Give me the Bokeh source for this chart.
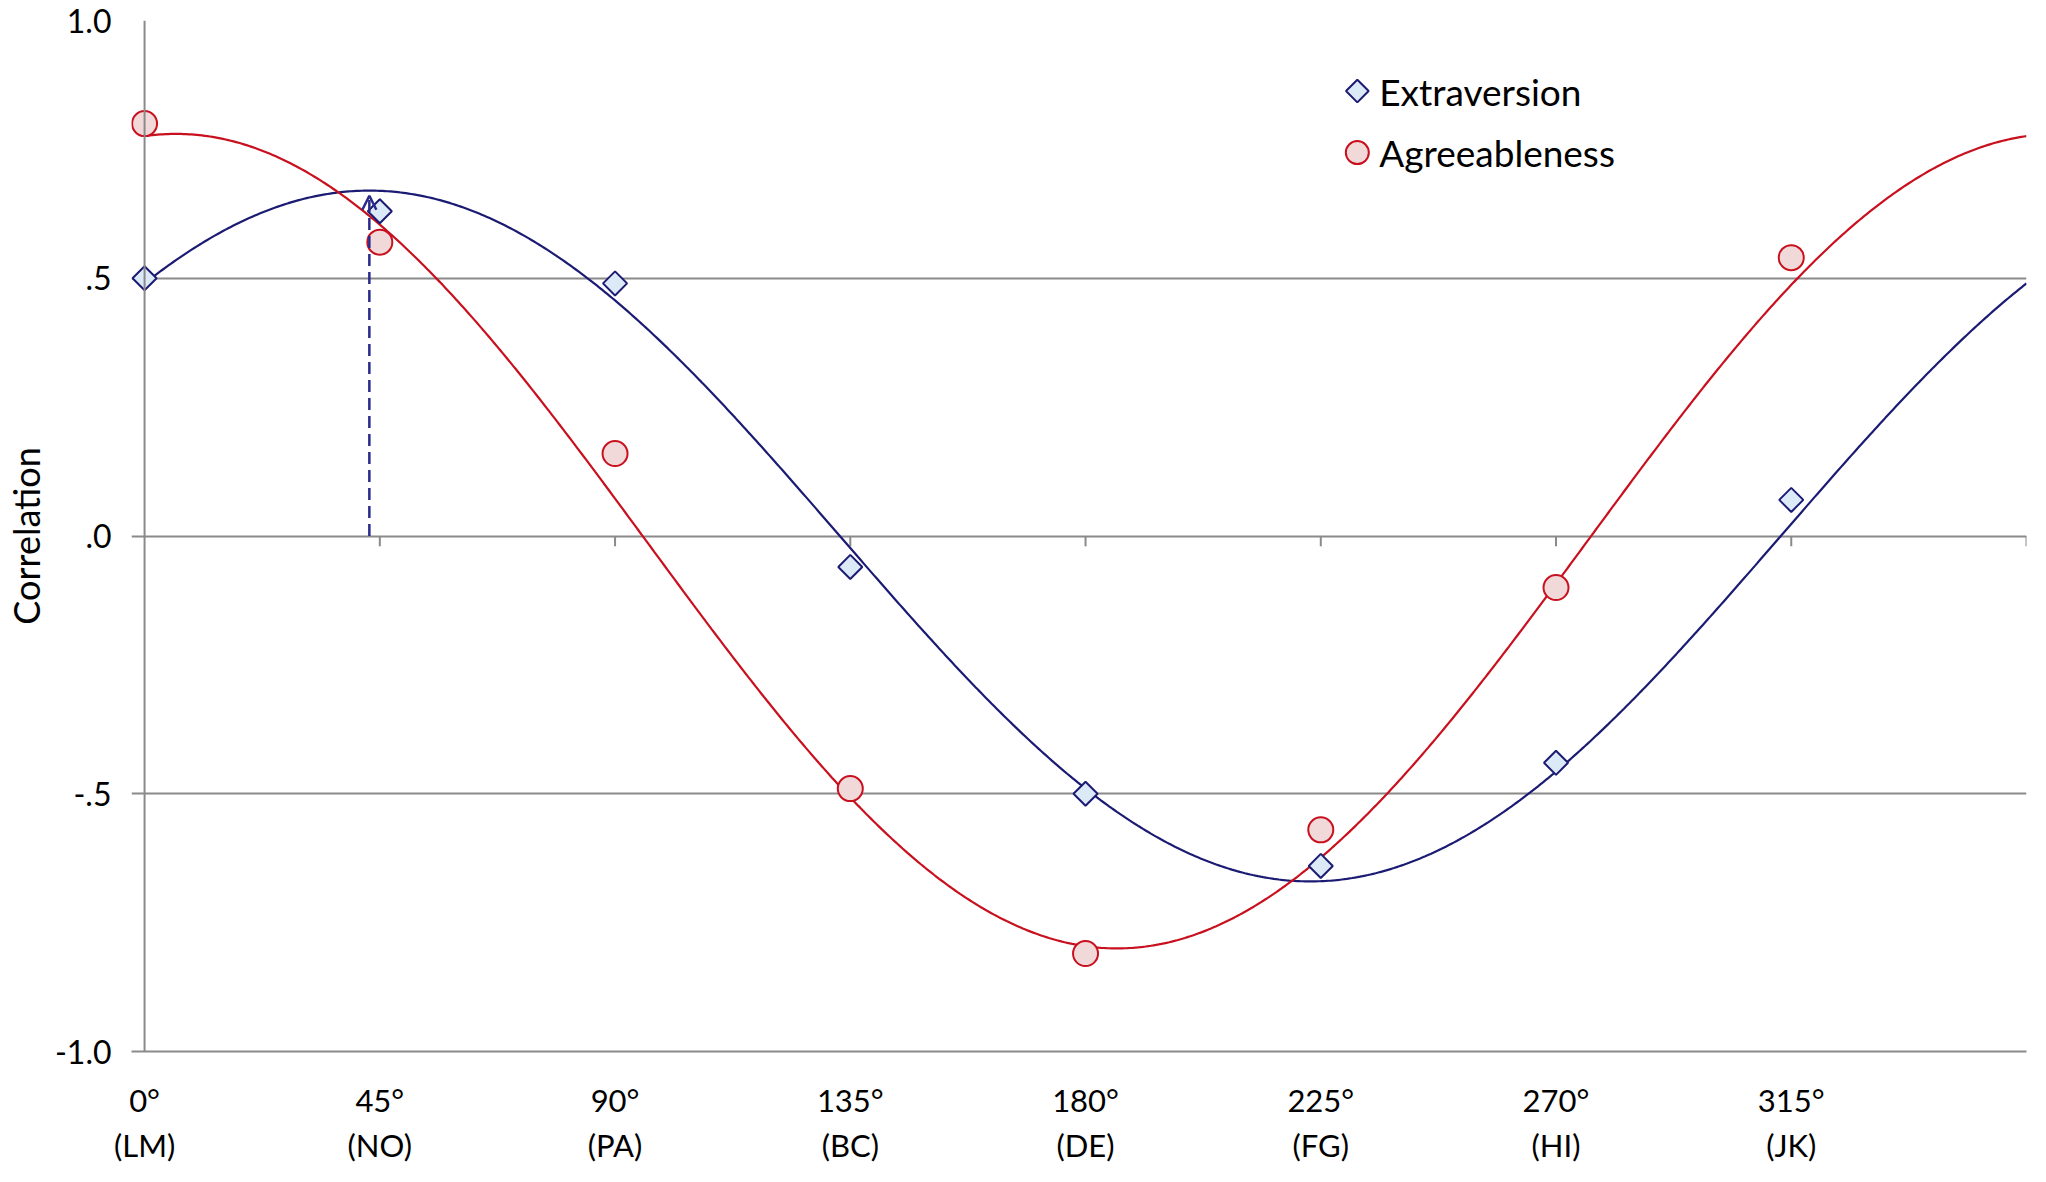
import numpy as np
from bokeh.plotting import figure
from bokeh.models import (Range1d, LinearAxis, FixedTicker, Arrow, OpenHead,
                          ColumnDataSource, Span)
from bokeh.core.properties import value
from bokeh.embed import file_html
from bokeh.resources import INLINE

# ---------------- data ----------------
angles = [0, 45, 90, 135, 180, 225, 270, 315]
degree_labels = ["0°", "45°", "90°", "135°", "180°", "225°", "270°", "315°"]
scale_labels = ["(LM)", "(NO)", "(PA)", "(BC)", "(DE)", "(FG)", "(HI)", "(JK)"]
extraversion = [0.50, 0.63, 0.49, -0.06, -0.50, -0.64, -0.44, 0.07]
agreeableness = [0.80, 0.57, 0.16, -0.49, -0.81, -0.57, -0.10, 0.54]
# fitted cosine (structural summary) parameters
extraversion_fit = {"elevation": 0.0, "amplitude": 0.67, "displacement": 43.0}
agreeableness_fit = {"elevation": -0.01, "amplitude": 0.79, "displacement": 6.0}
y_ticks = [-1.0, -0.5, 0.0, 0.5, 1.0]
y_tick_labels = ["-1.0", "-.5", ".0", ".5", "1.0"]
series_names = ["Extraversion", "Agreeableness"]
x_max = 360

# ---------------- layout / style ----------------
FONT = "Lato"
GRID = "#8a8a8a"
NAVY = "#1b1b73"
RED = "#c8101e"
W, H = 2030, 1166
B_LEFT, B_RIGHT, B_TOP, B_BOTTOM = 123, 4, 20, 108
FRAME_W = W - B_LEFT - B_RIGHT
FRAME_H = H - B_TOP - B_BOTTOM
X_PAD = 2.5  # room left of the 0° axis (gridlines reach past it, as tick marks)

p = figure(width=W, height=H, output_backend="svg", toolbar_location=None,
           x_range=Range1d(-X_PAD, x_max), y_range=Range1d(-1.0, 1.0),
           min_border_left=B_LEFT, min_border_right=B_RIGHT, min_border_top=B_TOP,
           min_border_bottom=B_BOTTOM)
p.outline_line_color = None
p.background_fill_color = "white"
p.border_fill_color = "white"
p.xgrid.visible = False
p.ygrid.ticker = FixedTicker(ticks=y_ticks)
p.ygrid.grid_line_color = GRID
p.ygrid.grid_line_width = 2

# pixel space of the frame (top-down) for the legend
p.extra_x_ranges = {"px": Range1d(0, FRAME_W)}
p.extra_y_ranges = {"px": Range1d(FRAME_H, 0)}

# vertical axis line at 0°
p.add_layout(Span(location=0, dimension="height", line_color=GRID, line_width=2))

# y axis (labels only; line drawn at 0°)
yax = p.yaxis[0]
yax.ticker = FixedTicker(ticks=y_ticks)
yax.major_label_overrides = {t: l for t, l in zip(y_ticks, y_tick_labels)}
yax.axis_line_color = None
yax.major_tick_line_color = None
yax.major_tick_out = 0
yax.major_tick_in = 0
yax.minor_tick_line_color = None
yax.major_label_text_font = FONT
yax.major_label_text_font_size = "32px"
yax.major_label_text_color = "black"
yax.major_label_standoff = 20
yax.axis_label = "Correlation"
yax.axis_label_text_font = FONT
yax.axis_label_text_font_size = "36px"
yax.axis_label_text_font_style = "normal"
yax.axis_label_text_color = "black"
yax.axis_label_standoff = 4

# x axis: degree labels
xax = p.xaxis[0]
xax.ticker = FixedTicker(ticks=angles)
xax.major_label_overrides = {a: l for a, l in zip(angles, degree_labels)}
xax.axis_line_color = GRID
xax.axis_line_width = 2
xax.major_tick_line_color = None
xax.minor_tick_line_color = None
xax.major_tick_out = 0
xax.major_tick_in = 0
xax.major_label_text_font = FONT
xax.major_label_text_font_size = "31px"
xax.major_label_text_color = "black"
xax.major_label_standoff = 29

# second x axis: scale labels
xax2 = LinearAxis(ticker=FixedTicker(ticks=angles),
                  major_label_overrides={a: l for a, l in zip(angles, scale_labels)})
xax2.axis_line_color = None
xax2.major_tick_line_color = None
xax2.minor_tick_line_color = None
xax2.major_tick_out = 0
xax2.major_tick_in = 0
xax2.major_label_text_font = FONT
xax2.major_label_text_font_size = "31px"
xax2.major_label_text_color = "black"
xax2.major_label_standoff = 4
p.add_layout(xax2, "below")

# small tick marks hanging below the zero line
zero_ticks = angles[1:] + [x_max]
p.segment(x0=zero_ticks, y0=[0] * len(zero_ticks), x1=zero_ticks,
          y1=[-0.02] * len(zero_ticks), line_color=GRID, line_width=2)

# fitted curves
theta = np.linspace(0, x_max, 721)


def cosine_curve(fit):
    return fit["elevation"] + fit["amplitude"] * np.cos(np.radians(theta - fit["displacement"]))


p.line(theta, cosine_curve(extraversion_fit), line_color=NAVY, line_width=2.2)
p.line(theta, cosine_curve(agreeableness_fit), line_color=RED, line_width=2.2)

# dashed arrow at Extraversion peak displacement
d = extraversion_fit["displacement"]
peak = extraversion_fit["elevation"] + extraversion_fit["amplitude"]
p.add_layout(Arrow(x_start=d, y_start=0, x_end=d, y_end=peak - 0.01,
                   line_color="#2a2a8c", line_width=2.5, line_dash="12 6",
                   end=OpenHead(size=14, line_color="#2a2a8c", line_width=2.5)))

# markers
src_e = ColumnDataSource(dict(x=angles, y=extraversion))
src_a = ColumnDataSource(dict(x=angles, y=agreeableness))
E_STYLE = dict(marker="square", angle=np.pi / 4, fill_color="#dce9f6",
               line_color=NAVY, line_width=2)
A_STYLE = dict(marker="circle", fill_color="#f2d9d9", line_color=RED, line_width=2)
p.scatter("x", "y", source=src_e, size=17, **E_STYLE)
p.scatter("x", "y", source=src_a, size=25, **A_STYLE)

# legend (drawn in frame pixel space)
LEG_X, LEG_Y, LEG_DY, LEG_TEXT_DX = 1231, 71, 62, 22
p.scatter(x=[LEG_X], y=[LEG_Y], size=16, x_range_name="px", y_range_name="px", **E_STYLE)
p.scatter(x=[LEG_X], y=[LEG_Y + LEG_DY], size=23, x_range_name="px", y_range_name="px",
          **A_STYLE)
p.text(x=[LEG_X + LEG_TEXT_DX] * 2, y=[LEG_Y, LEG_Y + LEG_DY], text=series_names,
       x_range_name="px", y_range_name="px", text_font=value(FONT),
       text_font_size="37px", text_baseline="middle", text_align="left",
       text_color="black")

open("out.html", "w").write(file_html(p, INLINE))
